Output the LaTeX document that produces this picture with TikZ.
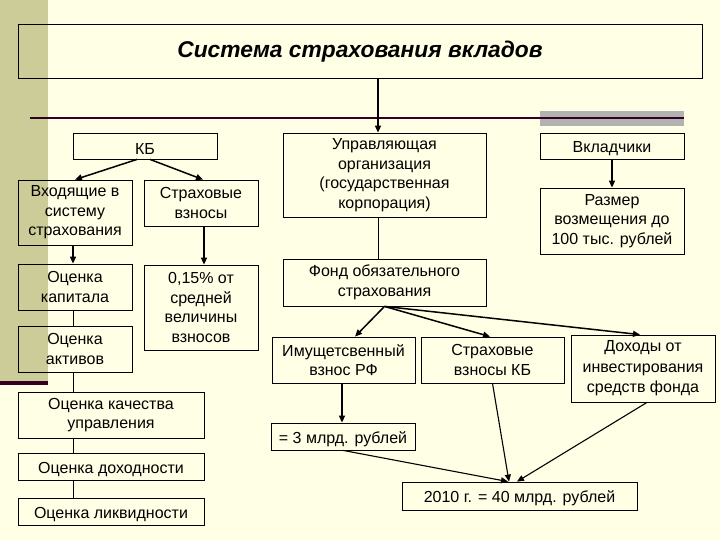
\documentclass[tikz,border=0pt]{standalone}
\usepackage{fontspec}
\setmainfont{Liberation Sans}
\usetikzlibrary{arrows.meta}
\definecolor{bg}{RGB}{255,255,229}
\definecolor{stripc}{RGB}{204,204,153}
\definecolor{maroonc}{RGB}{51,0,34}
\definecolor{graybar}{RGB}{178,178,178}
\begin{document}
\begin{tikzpicture}[x=1pt,y=-1pt,
  box/.style={draw=black, line width=0.8pt, align=center, inner sep=0pt,
    font=\fontsize{16}{19.5}\selectfont, execute at begin node={\rule{0pt}{17pt}}},
  multi/.style={execute at begin node={\rule{0pt}{20pt}}},
  arr/.style={-{Triangle[length=7pt,width=6pt]}, line width=1.5pt},
  arrthin/.style={-{Triangle[length=7pt,width=6pt]}, line width=1.1pt},
  link/.style={line width=0.8pt}]
% background
\fill[bg] (0,0) rectangle (720,540);
\useasboundingbox (0,0) rectangle (720,540);
\fill[stripc] (0,0) rectangle (48,381);
\fill[maroonc] (0,381) rectangle (48,385);
\fill[graybar] (540,111) rectangle (684,126);
\draw[maroonc, line width=2.5pt] (30,118) -- (684,118);
% title
\node[box, minimum width=684pt, minimum height=54pt, execute at begin node={},
  font=\fontsize{22.8}{26}\selectfont\bfseries\itshape] (title) at (360,51) {Система страхования вкладов};
% left
\node[box, minimum width=144pt, minimum height=26pt] (kb) at (145,146) {КБ};
\node[box, multi, minimum width=114pt, minimum height=65pt] (vhod) at (75,212.5) {Входящие в\\систему\\страхования};
\node[box, multi, minimum width=114pt, minimum height=46pt] (strv) at (201,203) {Страховые\\взносы};
\node[box, multi, minimum width=114pt, minimum height=46pt] (kap) at (75,287) {Оценка\\капитала};
\node[box, multi, minimum width=114pt, minimum height=85pt] (pct) at (201,307.5) {0,15\% от\\средней\\величины\\взносов};
\node[box, multi, minimum width=114pt, minimum height=46pt] (akt) at (75,349) {Оценка\\активов};
\node[box, multi, minimum width=186pt, minimum height=46pt] (kach) at (111,415) {Оценка качества\\управления};
\node[box, minimum width=186pt, minimum height=27pt] (doh) at (111,466.5) {Оценка доходности};
\node[box, minimum width=186pt, minimum height=27pt] (likv) at (111,511.5) {Оценка ликвидности};
% middle
\node[box, multi, minimum width=203pt, minimum height=84pt] (upr) at (384.5,175) {Управляющая\\организация\\(государственная\\корпорация)};
\node[box, multi, minimum width=203pt, minimum height=47pt] (fond) at (384.5,282.5) {Фонд обязательного\\страхования};
\node[box, minimum width=144pt, minimum height=26pt] (vkl) at (612,146) {Вкладчики};
\node[box, multi, minimum width=144pt, minimum height=66pt] (razm) at (612,221) {Размер\\возмещения до\\100 тыс. рублей};
\node[box, multi, minimum width=143pt, minimum height=46pt] (imu) at (343.5,360) {Имущетсвенный\\взнос РФ};
\node[box, multi, minimum width=143pt, minimum height=46pt] (skb) at (492.5,360) {Страховые\\взносы КБ};
\node[box, minimum width=144pt, minimum height=67pt, font=\fontsize{16}{20.5}\selectfont,
  execute at begin node={\rule{0pt}{22pt}}] (dohody) at (643,368.5) {Доходы от\\инвестирования\\средств фонда};
\node[box, minimum width=144pt, minimum height=27pt] (mlrd) at (343,436.5) {= 3 млрд. рублей};
\node[box, minimum width=235pt, minimum height=28pt] (y2010) at (519.5,496) {2010 г. = 40 млрд. рублей};
% connectors
\draw[arr] ([xshift=-6.5pt]upr.north |- title.south) -- ([xshift=-6.5pt]upr.north);
\draw[link] ([xshift=-6.5pt]upr.south) -- ([xshift=-6.5pt]fond.north);
\draw[arr] ([xshift=-8pt]kb.south) -- (vhod.north);
\draw[arr] ([xshift=5pt]kb.south) -- ([xshift=2pt]strv.north);
\draw[arr] ([xshift=-2pt]vhod.south) -- ([xshift=-2pt]kap.north);
\draw[arr] ([xshift=3pt]strv.south) -- ([xshift=3pt]pct.north);
\draw[link] ([xshift=-2pt]kap.south) -- ([xshift=-2pt]akt.north);
\draw[link] ([xshift=-2pt]akt.south) -- ([xshift=-2pt]akt.south |- kach.north);
\draw[link] ([xshift=-38pt]kach.south) -- ([xshift=-38pt]doh.north);
\draw[link] ([xshift=-38pt]doh.south) -- ([xshift=-38pt]likv.north);
\draw[arr] (vkl.south) -- (razm.north);
\draw[arr] (fond.south) -- ([xshift=11.5pt]imu.north);
\draw[arr] (fond.south) -- ([xshift=-2.5pt]skb.north);
\draw[arr] (fond.south) -- ([xshift=-3pt]dohody.north);
\draw[arr] ([xshift=-1.5pt]imu.south) -- ([xshift=-1pt]mlrd.north);
\draw[arrthin] (mlrd.south) -- ([xshift=-11.5pt]y2010.north);
\draw[arrthin] (skb.south) -- ([xshift=-10.5pt]y2010.north);
\draw[arrthin] ([xshift=4pt]dohody.south) -- ([xshift=-2.5pt]y2010.north);
\end{tikzpicture}
\end{document}
